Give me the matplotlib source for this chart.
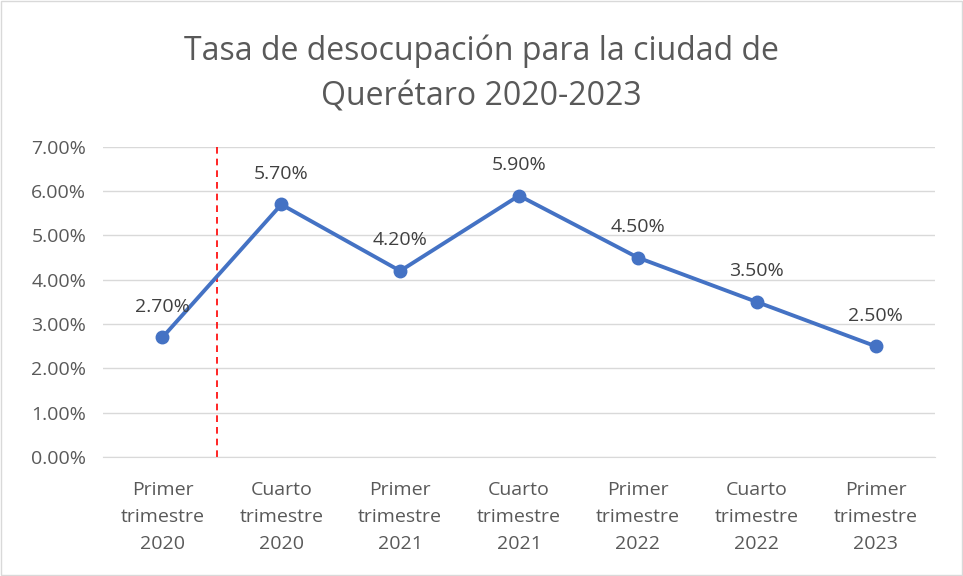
import matplotlib.pyplot as plt

# Tasa de desocupación, Querétaro
periodos = ['Primer\ntrimestre\n2020', 'Cuarto\ntrimestre\n2020',
            'Primer\ntrimestre\n2021', 'Cuarto\ntrimestre\n2021',
            'Primer\ntrimestre\n2022', 'Cuarto\ntrimestre\n2022',
            'Primer\ntrimestre\n2023']
tasas = [2.7, 5.7, 4.2, 5.9, 4.5, 3.5, 2.5]
y_ticks = [0, 1, 2, 3, 4, 5, 6, 7]
linea_corte = 0.46  # posición de la línea roja punteada

plt.rcParams['font.family'] = ['Open Sans', 'DejaVu Sans']

fig = plt.figure(figsize=(9.63, 5.76), dpi=100)
ax = fig.add_axes([0.107, 0.2066, 0.864, 0.5384])

x = list(range(len(tasas)))
ax.plot(x, tasas, color='#4472C4', linewidth=2.8, marker='o', markersize=9,
        solid_capstyle='round', zorder=3)

for xi, v in zip(x, tasas):
    ax.annotate(f'{v:.2f}%', (xi, v), xytext=(0, 22), textcoords='offset points',
                ha='center', va='center', fontsize=14, color='#404040')

ax.axvline(linea_corte, ymin=0, ymax=1, color='red', linestyle=(0, (4, 3)),
           linewidth=1.2, zorder=2)

ax.set_xlim(-0.5, len(tasas) - 0.5)
ax.set_ylim(0, 7)
ax.set_yticks(y_ticks)
ax.set_yticklabels([f'{t:.2f}%' for t in y_ticks])
ax.set_xticks(x)
ax.set_xticklabels(periodos, linespacing=1.65)
ax.tick_params(axis='both', length=0, labelsize=14, labelcolor='#595959')
ax.tick_params(axis='x', pad=17)
ax.tick_params(axis='y', pad=12)

ax.grid(axis='y', color='#D9D9D9', linewidth=1)
ax.set_axisbelow(True)
for s in ['top', 'right', 'left']:
    ax.spines[s].set_visible(False)
ax.spines['bottom'].set_color('#D9D9D9')

fig.text(0.5, 0.872, 'Tasa de desocupación para la ciudad de\nQuerétaro 2020-2023',
         ha='center', va='center', fontsize=23, color='#595959', linespacing=1.5)

fig.patches.append(plt.Rectangle((0.001, 0.001), 0.998, 0.998, transform=fig.transFigure,
                                 fill=False, edgecolor='#D9D9D9', linewidth=1))

fig.savefig('out.png', dpi=100)
